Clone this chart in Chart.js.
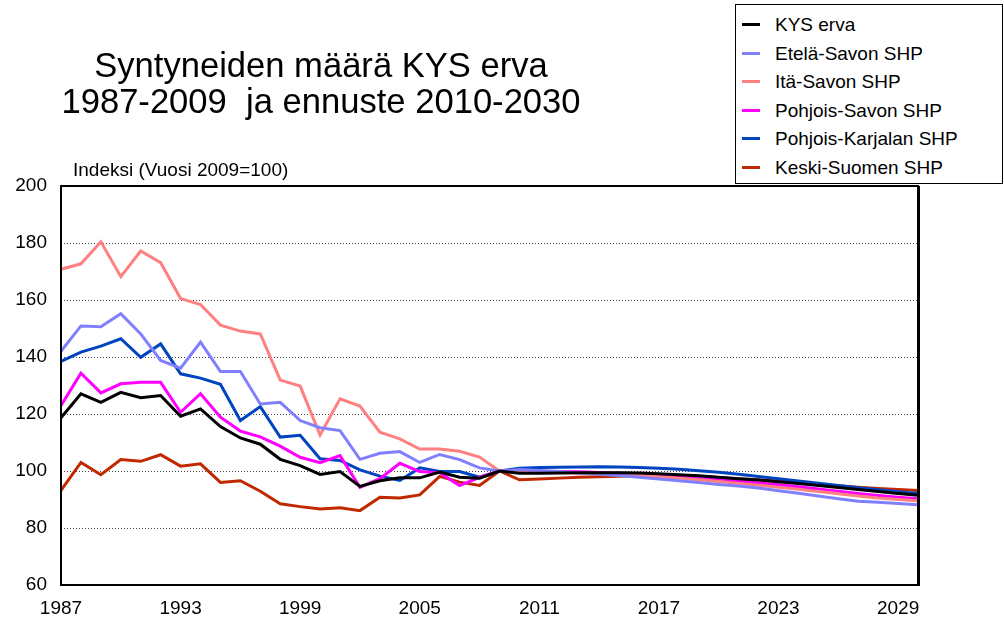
<!DOCTYPE html>
<html>
<head>
<meta charset="utf-8">
<script src="https://cdn.jsdelivr.net/npm/chart.js@4.4.0/dist/chart.umd.min.js"></script>
<style>
html,body{margin:0;padding:0;background:#fff;}
#wrap{position:relative;width:1004px;height:619px;overflow:hidden;font-family:"Liberation Sans",Arial,sans-serif;color:#000;}
#chart{position:absolute;left:0;top:0;}
#title{position:absolute;left:21px;width:600px;top:47px;text-align:center;font-size:34.6px;line-height:36px;white-space:pre;}
#ytitle{position:absolute;left:73px;top:159px;font-size:19px;line-height:22px;white-space:nowrap;}
#legend{position:absolute;left:735px;top:4px;width:268px;height:180px;border:1px solid #000;box-sizing:border-box;background:#fff;}
.li{position:absolute;left:0;height:24px;width:266px;}
.li .sw{position:absolute;left:6px;top:10px;width:18px;height:3px;}
.li .tx{position:absolute;left:39px;top:0;font-size:19px;line-height:24px;white-space:nowrap;}
</style>
</head>
<body>
<div id="wrap">
  <canvas id="chart" width="1004" height="619"></canvas>
  <div id="title">Syntyneiden määrä KYS erva
1987-2009  ja ennuste 2010-2030</div>
  <div id="ytitle">Indeksi (Vuosi 2009=100)</div>
  <div id="legend"></div>
</div>
<script>
// ---- data ----
const years = ['1987','1988','1989','1990','1991','1992','1993','1994','1995','1996','1997','1998','1999','2000','2001','2002','2003','2004','2005','2006','2007','2008','2009','2010','2011','2012','2013','2014','2015','2016','2017','2018','2019','2020','2021','2022','2023','2024','2025','2026','2027','2028','2029','2030'];
const xTickLabels = ['1987','1993','1999','2005','2011','2017','2023','2029'];
const yTicks = [60, 80, 100, 120, 140, 160, 180, 200];

const seriesNames = ['KYS erva','Etelä-Savon SHP','Itä-Savon SHP','Pohjois-Savon SHP','Pohjois-Karjalan SHP','Keski-Suomen SHP'];
const seriesColors = ['#000000','#8080FF','#FF8080','#FF00FF','#0044C0','#C02800'];

const kysErva = [118.7,127.1,124.1,127.6,125.7,126.5,119.2,121.8,115.6,111.6,109.4,104.1,101.9,98.8,99.8,94.6,96.6,97.6,97.6,99.6,97.8,97.5,100,
  99.2,99.2,99.3,99.4,99.4,99.4,99.3,99.0,98.7,98.3,97.8,97.3,96.8,96.2,95.6,94.9,94.2,93.5,92.8,92.1,91.5];
const etelaSavo = [142.0,150.9,150.6,155.2,148.1,138.8,136.1,145.2,134.9,134.9,123.5,124.1,117.7,115.2,114.2,104.1,106.2,106.8,103.0,105.8,104.0,101.1,100,
  100.5,100.2,99.8,99.3,98.9,98.4,97.8,97.2,96.6,96.0,95.3,94.7,94.0,93.1,92.2,91.2,90.3,89.4,89.0,88.6,88.2];
const itaSavo = [170.8,172.7,180.4,168.2,177.2,173.1,160.5,158.4,151.2,149.1,148.1,131.9,129.8,112.6,125.3,122.8,113.6,111.3,107.7,107.7,106.9,104.9,100,
  99.8,99.7,99.5,99.3,99.1,98.8,98.5,98.0,97.5,96.9,96.3,95.6,95.0,94.3,93.6,92.8,92.0,91.2,90.5,90.0,89.6];
const pohjoisSavo = [123.0,134.3,127.4,130.6,131.1,131.1,120.6,127.1,118.9,114.0,112.0,108.7,104.8,102.9,105.4,94.3,97.3,102.7,99.8,99.4,94.9,97.8,100,
  99.9,99.9,99.8,99.7,99.5,99.2,98.9,98.5,98.1,97.6,97.0,96.4,95.8,95.2,94.5,93.7,92.9,92.1,91.4,90.8,90.3];
const pohjoisKarjala = [138.5,141.7,143.8,146.4,139.9,144.6,134.1,132.6,130.4,117.7,122.6,111.9,112.5,104.3,103.7,100.4,98.2,96.7,101.1,99.8,99.8,97.8,100,
  101.0,101.2,101.3,101.4,101.5,101.4,101.2,101.0,100.6,100.1,99.6,98.9,98.1,97.3,96.5,95.7,94.9,94.1,93.4,92.7,92.1];
const keskiSuomi = [93.2,103.0,98.7,104.0,103.4,105.7,101.7,102.5,96.0,96.6,92.9,88.5,87.5,86.7,87.1,86.1,90.8,90.5,91.6,98.1,96.1,94.9,100,
  96.9,97.2,97.5,97.8,98.0,98.2,98.3,98.3,98.2,98.0,97.7,97.3,96.9,96.4,95.9,95.3,94.8,94.3,93.9,93.5,93.2];

const seriesValues = [kysErva, etelaSavo, itaSavo, pohjoisSavo, pohjoisKarjala, keskiSuomi];

// ---- legend (HTML) ----
const legendRowsTop = [13, 42, 70, 99, 127, 156];
const legendEl = document.getElementById('legend');
seriesNames.forEach((name, i) => {
  const row = document.createElement('div');
  row.className = 'li';
  row.style.top = (legendRowsTop[i] - 5) + 'px';
  const sw = document.createElement('div');
  sw.className = 'sw';
  sw.style.background = seriesColors[i];
  const tx = document.createElement('div');
  tx.className = 'tx';
  tx.textContent = name;
  row.appendChild(sw); row.appendChild(tx);
  legendEl.appendChild(row);
});

// ---- frame plugin ----
const framePlugin = {
  id: 'frame',
  afterDatasetsDraw(chart) {
    const {ctx, chartArea: a} = chart;
    ctx.save();
    ctx.strokeStyle = '#000';
    ctx.lineWidth = 2;
    ctx.strokeRect(a.left, a.top, a.right - a.left, a.bottom - a.top);
    ctx.lineWidth = 3;
    ctx.beginPath();
    ctx.moveTo(a.right + 0.5, a.top);
    ctx.lineTo(a.right + 0.5, a.bottom + 1);
    ctx.stroke();
    ctx.restore();
  }
};

const tickFont = {family: '"Liberation Sans", Arial, sans-serif', size: 19};

new Chart(document.getElementById('chart'), {
  type: 'line',
  data: {
    labels: years,
    datasets: seriesNames.map((name, i) => ({
      label: name,
      data: seriesValues[i],
      borderColor: seriesColors[i],
      backgroundColor: seriesColors[i],
      borderWidth: 3,
      pointRadius: 0,
      tension: 0,
      fill: false
    }))
  },
  options: {
    responsive: false,
    animation: false,
    devicePixelRatio: 1,
    layout: {padding: {top: 186, right: 86, left: 0, bottom: 0}},
    plugins: {legend: {display: false}, title: {display: false}, tooltip: {enabled: false}},
    scales: {
      x: {
        type: 'category',
        offset: false,
        grid: {display: false, drawTicks: false},
        border: {display: false},
        ticks: {
          autoSkip: false,
          maxRotation: 0,
          minRotation: 0,
          padding: 12,
          color: '#000',
          font: tickFont,
          callback: function(value, index) {
            const lab = this.getLabelForValue(value);
            return xTickLabels.includes(lab) ? lab : null;
          }
        },
        afterFit(scale) { scale.height = 34; }
      },
      y: {
        min: 60,
        max: 200,
        afterBuildTicks(scale) { scale.ticks = yTicks.map(v => ({value: v})); },
        grid: {
          drawTicks: false,
          lineWidth: 1,
          color: ctx => (ctx.tick && (ctx.tick.value === 60 || ctx.tick.value === 200)) ? 'rgba(0,0,0,0)' : '#444'
        },
        border: {display: false, dash: [1, 2]},
        ticks: {padding: 14, color: '#000', font: tickFont},
        afterFit(scale) { scale.width = 61; }
      }
    }
  },
  plugins: [framePlugin]
});
</script>
</body>
</html>
